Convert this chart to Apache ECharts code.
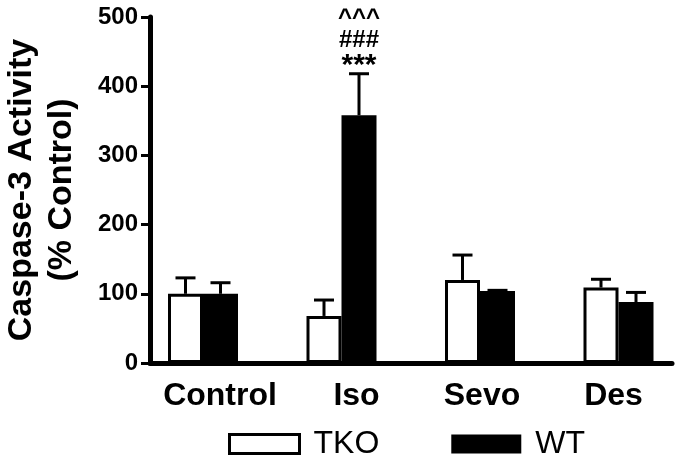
<!DOCTYPE html>
<html>
<head>
<meta charset="utf-8">
<script src="https://cdn.jsdelivr.net/npm/echarts@6/dist/echarts.min.js"></script>
<style>html,body{margin:0;padding:0;background:#fff;}#c{width:678px;height:463px;}</style>
</head>
<body>
<div id="c"></div>
<script>
const categories = ['Control', 'Iso', 'Sevo', 'Des'];
const tkoValues = [100, 68, 120, 109];
const tkoErrors = [23, 23, 36, 12];
const wtValues = [100, 358, 104, 88];
const wtErrors = [16, 60, 1, 14];
const yMin = 0, yMax = 500, yStep = 100;
const sigLabels = ['***', '###', '^^^'];
const sigCategoryIndex = 1;
const seriesNames = ['TKO', 'WT'];

const FONT = "'Liberation Sans', Arial, sans-serif";
const BAR_W = 35;
// horizontal nudges (px) of category labels relative to group centre
const labelShift = [17, 15, 2, -5];

function errorSeries(name, values, errors, offset) {
  return {
    type: 'custom',
    name: name + ' error',
    xAxisIndex: 0, yAxisIndex: 0,
    z: 1,
    silent: true,
    data: values.map((v, i) => [i, v, v + errors[i]]),
    renderItem: function (params, api) {
      const base = api.coord([api.value(0), api.value(1)]);
      const top = api.coord([api.value(0), api.value(2)]);
      const x = base[0] + offset;
      return {
        type: 'group',
        children: [
          { type: 'line', shape: { x1: x, y1: base[1], x2: x, y2: top[1] }, style: { stroke: '#000', lineWidth: 3 } },
          { type: 'line', shape: { x1: x - 10, y1: top[1], x2: x + 10, y2: top[1] }, style: { stroke: '#000', lineWidth: 3 } }
        ]
      };
    }
  };
}

const rich = {};
labelShift.forEach((s, i) => {
  rich['c' + i] = {
    fontSize: 32, fontWeight: 'bold', color: '#000', fontFamily: FONT,
    padding: s >= 0 ? [0, 0, 0, 2 * s] : [0, -2 * s, 0, 0]
  };
});

const option = {
  backgroundColor: '#fff',
  animation: false,
  grid: [
    { left: 133.75, top: 17, width: 554, height: 346, outerBoundsMode: 'none', containLabel: false },
    { left: 150, top: 17, width: 522, height: 346, outerBoundsMode: 'none', containLabel: false }
  ],
  legend: {
    data: [
      { name: seriesNames[0], itemStyle: { color: '#fff', borderColor: '#000', borderWidth: 3 } },
      { name: seriesNames[1], itemStyle: { color: '#000', borderWidth: 0 } }
    ],
    left: 228, top: 428, padding: 0,
    itemWidth: 70, itemHeight: 19, itemGap: 72,
    icon: 'rect',
    textStyle: { fontSize: 32, color: '#000', fontFamily: FONT, fontWeight: 'normal', padding: [0, 0, 0, 9] }
  },
  xAxis: [
    {
      type: 'category', gridIndex: 0, data: categories,
      axisLine: { show: false }, axisTick: { show: false },
      axisLabel: {
        interval: 0, fontSize: 32, fontWeight: 'bold', color: '#000', fontFamily: FONT, margin: 17,
        formatter: function (v, i) { return '{c' + i + '|' + v + '}'; },
        rich: rich
      }
    },
    {
      type: 'value', gridIndex: 1, min: 0, max: 1,
      axisLine: { show: true, lineStyle: { color: '#000', width: 5 } },
      axisTick: { show: false }, axisLabel: { show: false }, splitLine: { show: false }
    }
  ],
  yAxis: [
    { type: 'value', gridIndex: 0, min: yMin, max: yMax, show: false, splitLine: { show: false } },
    {
      type: 'value', gridIndex: 1, min: yMin, max: yMax, interval: yStep,
      name: 'Caspase-3 Activity\n(% Control)',
      nameLocation: 'middle', nameRotate: 90, nameGap: 68,
      nameTextStyle: { fontSize: 34, fontWeight: 'bold', color: '#000', fontFamily: FONT, lineHeight: 40 },
      axisLine: { show: true, lineStyle: { color: '#000', width: 5 } },
      axisTick: { show: true, length: 9, lineStyle: { color: '#000', width: 3 } },
      axisLabel: { fontSize: 24, fontWeight: 'bold', color: '#000', fontFamily: FONT, margin: 12 },
      splitLine: { show: false }
    }
  ],
  series: [
    errorSeries('TKO', tkoValues, tkoErrors, -BAR_W / 2),
    errorSeries('WT', wtValues, wtErrors, BAR_W / 2),
    {
      type: 'bar', name: 'TKO', xAxisIndex: 0, yAxisIndex: 0, z: 2,
      data: tkoValues, barWidth: BAR_W, barGap: '0%',
      itemStyle: { color: '#fff', borderColor: '#000', borderWidth: 3 }
    },
    {
      type: 'bar', name: 'WT', xAxisIndex: 0, yAxisIndex: 0, z: 2,
      data: wtValues, barWidth: BAR_W, barGap: '0%',
      itemStyle: { color: '#000', borderColor: '#000', borderWidth: 0 }
    },
    {
      type: 'custom', name: 'significance', xAxisIndex: 0, yAxisIndex: 0, z: 3, silent: true,
      data: [[sigCategoryIndex, wtValues[sigCategoryIndex] + wtErrors[sigCategoryIndex]]],
      renderItem: function (params, api) {
        const p = api.coord([api.value(0), api.value(1)]);
        const x = p[0] + BAR_W / 2;
        const offs = [-8, -33, -55];
        return {
          type: 'group',
          children: sigLabels.map((t, k) => ({
            type: 'text',
            style: {
              text: t, x: x, y: p[1] + offs[k],
              align: 'center', verticalAlign: 'middle',
              fontSize: k === 0 ? 30 : 24, fontWeight: 'bold', fontFamily: FONT, fill: '#000'
            }
          }))
        };
      }
    }
  ]
};

const chart = echarts.init(document.getElementById('c'), null, { renderer: 'canvas' });
chart.setOption(option);
</script>
</body>
</html>
